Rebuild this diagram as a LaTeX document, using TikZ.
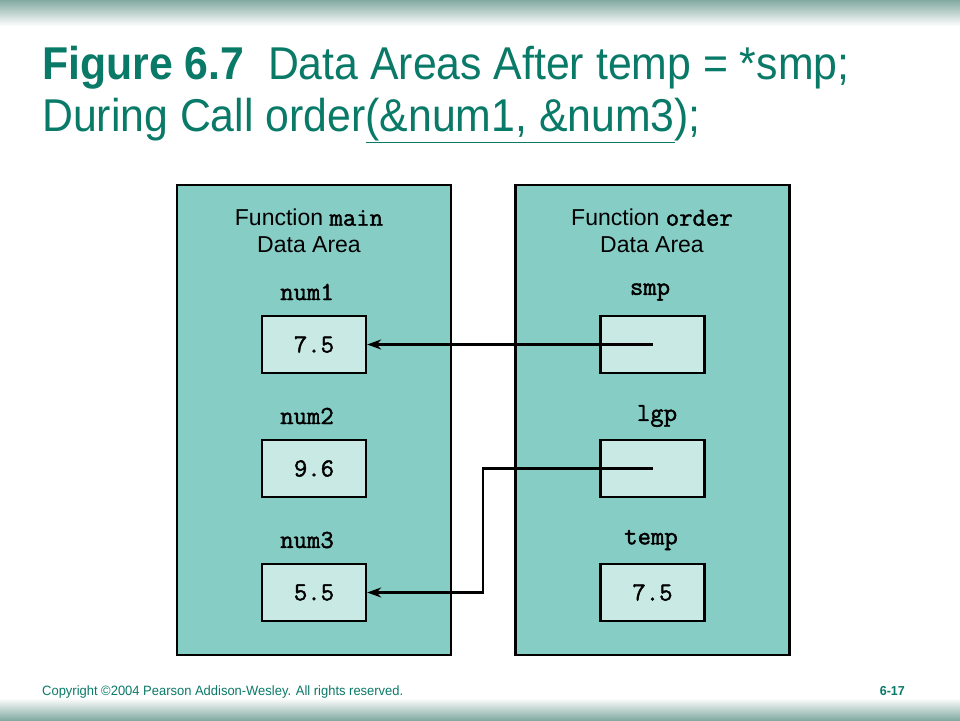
\documentclass[tikz,border=0pt]{standalone}
\usepackage{fontspec}
\setmainfont{Liberation Sans}
\setmonofont{Latin Modern Mono}[FakeBold=1.6]
\newfontfamily\narrowfont{Liberation Sans}[FakeStretch=0.93]
\newfontfamily\footfont{Liberation Sans}[FakeStretch=0.96]
\usetikzlibrary{arrows.meta}
\definecolor{slidegreen}{RGB}{10,122,104}
\definecolor{areafill}{RGB}{134,205,197}
\definecolor{cellfill}{RGB}{200,233,228}
\definecolor{bandgray}{RGB}{130,170,160}
\begin{document}
\begin{tikzpicture}[x=1pt,y=-1pt]
        \tikzstyle{every node}=[inner sep=0pt]
        \tikzstyle{area}=[draw=black,line width=2.4pt,fill=areafill,minimum width=274pt,minimum height=470pt]
        \tikzstyle{cell}=[draw=black,line width=2.4pt,fill=cellfill,minimum width=104pt,minimum height=57pt,font=\ttfamily\fontsize{26}{26}\selectfont]
        \tikzstyle{varname}=[font=\ttfamily\fontsize{26}{26}\selectfont]
        \tikzstyle{heading}=[align=center,font=\fontsize{23}{27}\selectfont]
        \tikzstyle{ptr}=[line width=2.2pt,-{Stealth[length=14pt,width=10pt]}]
        \useasboundingbox (0,0) rectangle (960,720);
        \fill[white] (0,0) rectangle (960,720);
        \shade[top color=bandgray,bottom color=white] (0,0) rectangle (960,26);
        \shade[top color=white,bottom color=bandgray] (0,698) rectangle (960,720);
        \node[anchor=base west,text=slidegreen,font=\narrowfont\fontsize{46}{46}\selectfont] (title1) at (42,79) {\textbf{Figure 6.7}\ \ Data Areas After temp = *smp;};
        \node[anchor=base west,text=slidegreen,font=\narrowfont\fontsize{46}{46}\selectfont] (title2) at (42,131) {During Call order\underline{(\&num1, \&num3})\kern-0.2pt;};
        \node[area] (mainarea) at (314,420) {};
        \node[area] (orderarea) at (652.5,420) {};
        \node[heading] (mainhead) at (309,231) {Function {\fontsize{26}{26}\selectfont\texttt{main}}\\Data Area};
        \node[heading] (orderhead) at (652,231) {Function {\fontsize{26}{26}\selectfont\texttt{order}}\\Data Area};
        \node[varname] (num1name) at (307,292) {num1};
        \node[varname] (num2name) at (307,416) {num2};
        \node[varname] (num3name) at (307,540) {num3};
        \node[varname] (smpname) at (650,292) {smp};
        \node[varname] (lgpname) at (657,416) {lgp};
        \node[varname] (tempname) at (651,540) {temp};
        \node[cell] (num1) at (314,344.5) {7.5};
        \node[cell] (num2) at (314,468.5) {9.6};
        \node[cell] (num3) at (314,592.5) {5.5};
        \node[cell] (smp) at (652.5,344.5) {};
        \node[cell] (lgp) at (652.5,468.5) {};
        \node[cell] (temp) at (652.5,592.5) {7.5};
        \draw[ptr] (smp.center) -- (num1.east);
        \draw[ptr] (lgp.center) -- ++(-169.5,0) |- (num3.east);
        \node[anchor=base west,text=slidegreen,font=\footfont\fontsize{13.5}{13.5}\selectfont] (copyright) at (42,695) {Copyright \textcopyright2004 Pearson Addison-Wesley. All rights reserved.};
        \node[anchor=base east,text=slidegreen,font=\footfont\bfseries\fontsize{13}{13}\selectfont] (pageno) at (905,695) {6-17};
    \end{tikzpicture}
\end{document}
